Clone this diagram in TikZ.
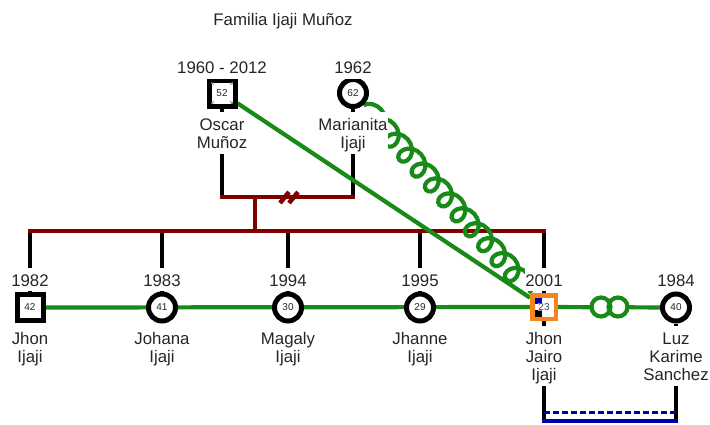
\documentclass[tikz,border=0pt]{standalone}
\usepackage{fontspec}
\setmainfont{Liberation Sans}
\usetikzlibrary{decorations.pathmorphing,arrows.meta}
\definecolor{famred}{HTML}{800000}
\definecolor{famgreen}{HTML}{178A17}
\definecolor{famorange}{HTML}{F5841F}
\definecolor{famblue}{HTML}{0000A8}
\definecolor{txt}{HTML}{262626}
\newcommand{\lbl}[1]{\begin{tabular}[t]{@{}c@{}}\rule[-4.5pt]{0pt}{22.8pt}#1\end{tabular}}
\pgfdeclarelayer{bg}
\pgfsetlayers{bg,main}
\tikzset{
  lab/.style={font=\fontsize{16.8}{18.3}\selectfont, text=txt, fill=white, inner sep=0pt, anchor=base},
  male/.style={rectangle, draw=black, line width=5pt, fill=white, minimum size=26pt, inner sep=0pt, font=\fontsize{10}{12}\selectfont, text=txt},
  female/.style={circle, draw=black, line width=5pt, fill=white, minimum size=27pt, inner sep=0pt, font=\fontsize{10}{12}\selectfont, text=txt},
  kin/.style={draw=black, line width=3.5pt},
  fam/.style={draw=famred, line width=4.5pt},
  rel/.style={draw=famgreen, line width=4.2pt},
  cornerarrow/.style={draw=black!55, line width=0.6pt, -{Stealth[length=2.5pt,width=2.5pt]}},
}
\begin{document}
\begin{tikzpicture}[x=1pt,y=-1pt]
\useasboundingbox (0,0) rectangle (710,424);
% title
\node[lab] (title) at (283,25) {Familia Ijaji Muñoz};
% parents
\node[male] (oscar) at (222,93) {52};
\node[female] (mar) at (353,93) {62};
\node[lab] (yoscar) at (222,73.5) {\lbl{1960 - 2012}};
\node[lab] (ymar) at (353,73.5) {\lbl{1962}};
\node[lab] (noscar) at (222,130.5) {\lbl{Oscar\\Muñoz}};
\node[lab] (nmar) at (353,130.5) {\lbl{Marianita\\Ijaji}};
% deceased marks
\draw[cornerarrow] (214,85) -- (211,82);
\draw[cornerarrow] (230,85) -- (233,82);
\draw[cornerarrow] (214,101) -- (211,104);
\draw[cornerarrow] (230,101) -- (233,104);
% children
\node[male] (jhon) at (30,307.5) {42};
\node[female] (johana) at (162,307.5) {41};
\node[female] (magaly) at (288,307.5) {30};
\node[female] (jhanne) at (420,307.5) {29};
\node[male, draw=famorange, line width=4.5pt, minimum size=23.5pt] (jj) at (544,307) {};
\fill[famblue] (534.5,297.5) rectangle (542,304);
\fill[black] (534.5,310) rectangle (542,316.5);
\node[inner sep=0.5pt, font=\fontsize{10}{12}\selectfont, text=black!75, fill=white, fill opacity=0.6, text opacity=1] (jjage) at (jj.center) {23};
\node[female] (luz) at (676,307.5) {40};
% years
\node[lab] (yjhon) at (30,286) {\lbl{1982}};
\node[lab] (yjohana) at (162,286) {\lbl{1983}};
\node[lab] (ymagaly) at (288,286) {\lbl{1994}};
\node[lab] (yjhanne) at (420,286) {\lbl{1995}};
\node[lab] (yjj) at (544,286) {\lbl{2001}};
\node[lab] (yluz) at (676,286) {\lbl{1984}};
% names
\node[lab] (njhon) at (30,344) {\lbl{Jhon\\Ijaji}};
\node[lab] (njohana) at (162,344) {\lbl{Johana\\Ijaji}};
\node[lab] (nmagaly) at (288,344) {\lbl{Magaly\\Ijaji}};
\node[lab] (njhanne) at (420,344) {\lbl{Jhanne\\Ijaji}};
\node[lab] (njj) at (544,344) {\lbl{Jhon\\Jairo\\Ijaji}};
\node[lab] (nluz) at (676,344) {\lbl{Luz\\Karime\\Sanchez}};
% coordinates
\coordinate (cplL) at (222,197);
\coordinate (cplR) at (353,197);
\coordinate (cplM) at (255,197);
\coordinate (sibM) at (255,231);
\coordinate (sibL) at (30,231);
\coordinate (sibR) at (544,231);
\coordinate (mb1) at (544,421);
\coordinate (mb2) at (676,421);
\begin{pgfonlayer}{bg}
  \draw[kin] (oscar) -- (cplL);
  \draw[kin] (mar) -- (cplR);
  \foreach \c in {jhon,johana,magaly,jhanne,jj} {\draw[kin] (\c |- sibL) -- (\c);}
  \draw[kin] (jj) -- (mb1);
  \draw[kin] (luz) -- (mb2);
  \draw[fam] ([xshift=-1.7pt]cplL) -- ([xshift=1.7pt]cplR);
  \draw[fam] (cplM) -- (sibM);
  \draw[fam] ([xshift=-1.7pt]sibL) -- ([xshift=1.7pt]sibR);
  \draw[fam] (280,203) -- (289,192);
  \draw[fam] (289,203) -- (298,192);
  % sibling line
  \draw[rel] (jhon) -- (jj);
  % green relations
  \draw[rel] (oscar) -- (jj);
  \draw[rel, decorate, decoration={coil, amplitude=10pt, segment length=20pt, aspect=1}] (mar) -- (jj);
  \draw[rel] (jj) -- (luz);
  \fill[white] (601,307) circle[radius=9.5pt] (618,307) circle[radius=9.5pt];
  \draw[rel] (601,307) circle[radius=9.5pt] (618,307) circle[radius=9.5pt];
  % bottom blue
  \draw[famblue, line width=3.8pt] ([xshift=-1.7pt]mb1) -- ([xshift=1.7pt]mb2);
  \draw[famblue, line width=3.2pt, dash pattern=on 6pt off 3pt] ([yshift=8.5pt]mb1) -- ([yshift=8.5pt]mb2);
\end{pgfonlayer}
\end{tikzpicture}
\end{document}
